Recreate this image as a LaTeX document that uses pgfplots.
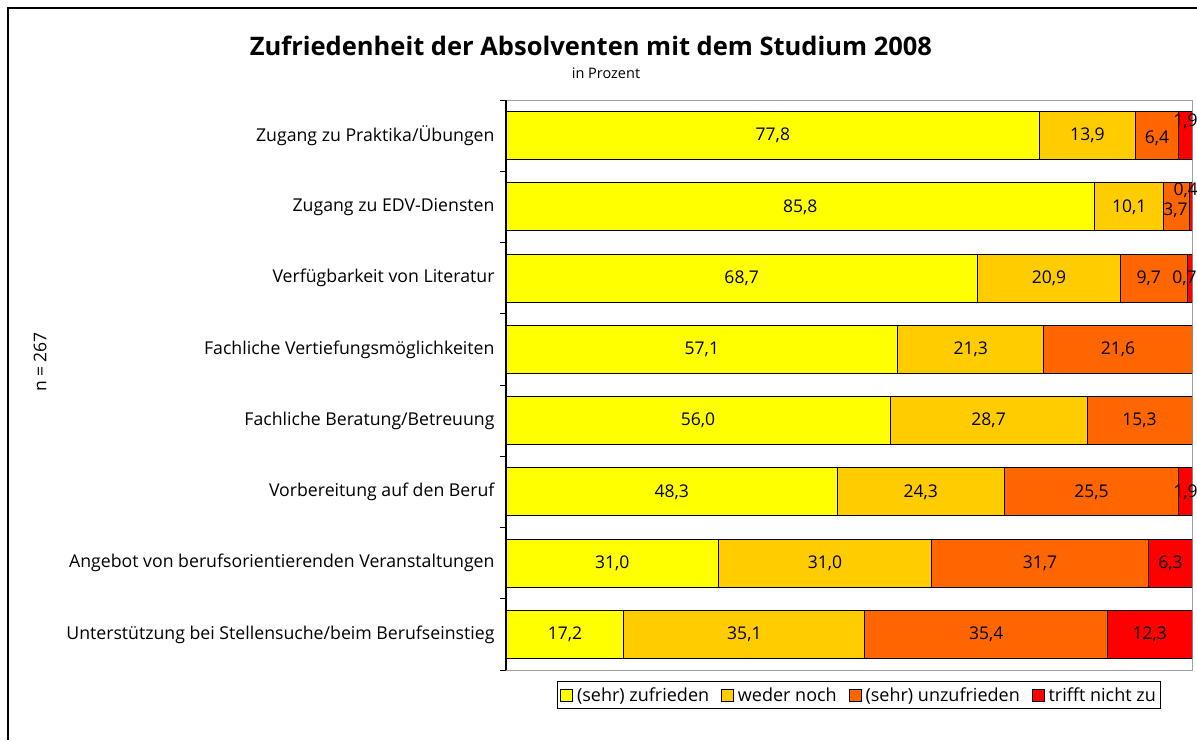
\documentclass[border=0pt]{standalone}
\usepackage{pgfplots}
\pgfplotsset{compat=1.18}
\usepackage{fontspec}
\setmainfont{Open Sans}
\definecolor{c1}{HTML}{FFFF00}
\definecolor{c2}{HTML}{FFCC00}
\definecolor{c3}{HTML}{FF6600}
\definecolor{c4}{HTML}{FF0000}
\definecolor{frame}{HTML}{A0A0A0}
\begin{document}
\begin{tikzpicture}[x=1pt,y=1pt]
\useasboundingbox (0,0) rectangle (1197,740);
\draw[line width=1.2pt] (8,0) -- (8,732) -- (1197,732);
\node[font=\fontsize{25.5}{30}\selectfont\bfseries] at (591,694) {Zufriedenheit der Absolventen mit dem Studium 2008};
\node[font=\fontsize{14.5}{17}\selectfont] at (606,667) {in Prozent};
\node[rotate=90, font=\fontsize{17.5}{20}\selectfont] at (40,378) {n = 267};
\begin{axis}[
  at={(506pt,70pt)}, anchor=south west,
  scale only axis, width=686pt, height=570pt,
  xbar stacked, bar width=48pt,
  xmin=0, xmax=100, ymin=-0.5, ymax=7.5, y dir=reverse,
  axis line style={draw=frame, line width=1pt},
  xtick=\empty, tick pos=left,
  ytick={0,...,7},
  yticklabels={Zugang zu Praktika/Übungen, Zugang zu EDV-Diensten, Verfügbarkeit von Literatur, Fachliche Vertiefungsmöglichkeiten, Fachliche Beratung/Betreuung, Vorbereitung auf den Beruf, Angebot von berufsorientierenden Veranstaltungen, Unterstützung bei Stellensuche/beim Berufseinstieg},
  yticklabel style={font=\fontsize{17.7}{20}\selectfont, xshift=-8pt},
  major tick length=0pt,
  extra y ticks={-0.5,0.5,...,7.5},
  extra y tick labels={},
  extra y tick style={major tick length=6pt, tick align=outside, tick pos=left, tick style={black, line width=1pt}},
  every axis plot/.append style={draw=black, line width=1pt},
  legend columns=4,
  legend style={at={(0.5146,-0.0439)}, anchor=center, draw=black, line width=0.8pt, font=\fontsize{18}{20}\selectfont, inner xsep=3pt, inner ysep=4pt, /tikz/every odd column/.append style={column sep=2pt}, /tikz/every even column/.append style={column sep=10pt}},
  legend image code/.code={\draw[#1, draw=black, line width=0.8pt] (0pt,-6pt) rectangle (12pt,6pt);},
  after end axis/.code={\draw[black, line width=1.2pt] (rel axis cs:0,0) -- (rel axis cs:0,1);},
]
\addplot[fill=c1] coordinates {(77.8,0) (85.8,1) (68.7,2) (57.1,3) (56.0,4) (48.3,5) (31.0,6) (17.2,7)};
\addplot[fill=c2] coordinates {(13.9,0) (10.1,1) (20.9,2) (21.3,3) (28.7,4) (24.3,5) (31.0,6) (35.1,7)};
\addplot[fill=c3] coordinates {(6.4,0) (3.7,1) (9.7,2) (21.6,3) (15.3,4) (25.5,5) (31.7,6) (35.4,7)};
\addplot[fill=c4] coordinates {(1.9,0) (0.4,1) (0.7,2) (0,3) (0,4) (1.9,5) (6.3,6) (12.3,7)};
\legend{(sehr) zufrieden, weder noch, (sehr) unzufrieden, trifft nicht zu}
\end{axis}
\begin{axis}[
  at={(506pt,70pt)}, anchor=south west,
  scale only axis, width=686pt, height=570pt,
  xmin=0, xmax=100, ymin=-0.5, ymax=7.5, y dir=reverse,
  hide axis, clip=false,
  nodes near coords, point meta=explicit symbolic,
  every node near coord/.append style={anchor=center, font=\fontsize{17.5}{20}\selectfont, inner sep=0pt},
]
\addplot[draw=none, mark=none] table[meta=l] {
x y l
38.9 0 77,8
84.75 0 13,9
42.9 1 85,8
90.85 1 10,1
34.35 2 68,7
79.15 2 20,9
93.7 2 9,7
98.9 2 0,7
28.55 3 57,1
67.75 3 21,3
89.2 3 21,6
28.0 4 56,0
70.35 4 28,7
92.35 4 15,3
24.15 5 48,3
60.45 5 24,3
85.35 5 25,5
99.05 5 1,9
15.5 6 31,0
46.5 6 31,0
77.85 6 31,7
96.85 6 6,3
8.6 7 17,2
34.75 7 35,1
70.0 7 35,4
93.85 7 12,3
};
\addplot[draw=none, mark=none, every node near coord/.append style={yshift=-3pt}] table[meta=l] {
x y l
94.9 0 6,4
97.6 1 3,7
};
\addplot[draw=none, mark=none, every node near coord/.append style={yshift=14pt}] table[meta=l] {
x y l
99.05 0 1,9
};
\addplot[draw=none, mark=none, every node near coord/.append style={yshift=17pt}] table[meta=l] {
x y l
99.1 1 0,4
};
\end{axis}
\end{tikzpicture}
\end{document}
